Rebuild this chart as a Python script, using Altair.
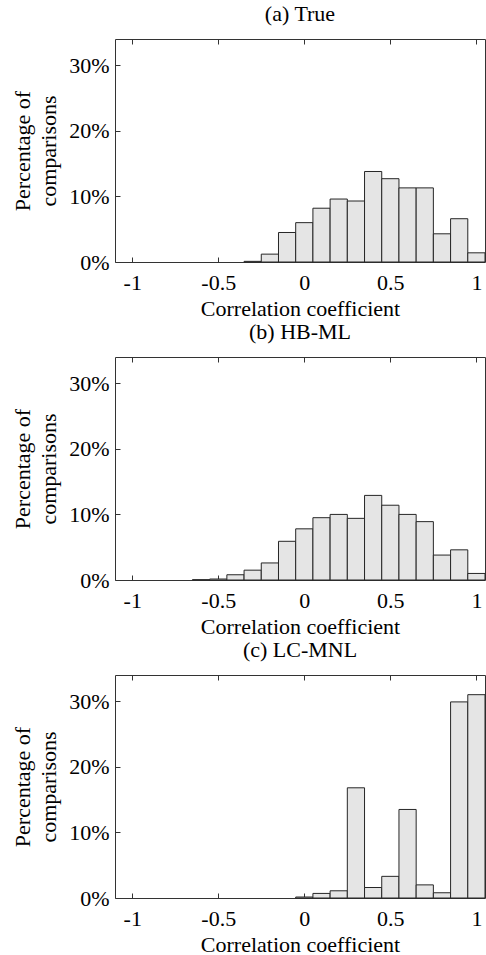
import altair as alt
import pandas as pd

# ---- data (percent of comparisons per 0.1-wide bin, by bin centre)
centers_true = [-0.3, -0.2, -0.1, 0.0, 0.1, 0.2, 0.3, 0.4, 0.5, 0.6, 0.7, 0.8, 0.9, 1.0]
pct_true = [0.1, 1.2, 4.5, 6.0, 8.2, 9.6, 9.3, 13.8, 12.7, 11.3, 11.3, 4.3, 6.6, 1.4]

centers_hbml = [-0.6, -0.5, -0.4, -0.3, -0.2, -0.1, 0.0, 0.1, 0.2, 0.3, 0.4, 0.5, 0.6, 0.7, 0.8, 0.9, 1.0]
pct_hbml = [0.05, 0.15, 0.8, 1.5, 2.6, 5.9, 7.8, 9.5, 10.0, 9.4, 12.9, 11.4, 10.0, 8.9, 3.8, 4.6, 1.0]

centers_lcmnl = [0.0, 0.1, 0.2, 0.3, 0.4, 0.5, 0.6, 0.7, 0.8, 0.9, 1.0]
pct_lcmnl = [0.15, 0.7, 1.1, 16.8, 1.6, 3.3, 13.5, 2.0, 0.8, 29.9, 31.0]

panel_titles = ["(a) True", "(b) HB-ML", "(c) LC-MNL"]
x_ticks = [-1, -0.5, 0, 0.5, 1]
y_ticks = [0, 0.1, 0.2, 0.3]
x_title = "Correlation coefficient"
y_title = ["Percentage of", "comparisons"]

W, H = 370, 223
FONT = "Liberation Serif, Times New Roman, Times, DejaVu Serif, serif"
FS = 22
TICK_COLOR = "#333333"


def panel(centers, pct, title):
    df = pd.DataFrame({"center": centers, "pct": pct})
    base = alt.Chart(df).transform_calculate(
        x0="datum.center - 0.05",
        x1="datum.center + 0.05",
        frac="datum.pct / 100",
    )
    xs = alt.Scale(domain=[-1.1, 1.05], nice=False, zero=False)
    ys = alt.Scale(domain=[0, 0.34], nice=False)

    bars = base.mark_bar(fill="#e5e5e5", stroke="#262626", strokeWidth=1).encode(
        x=alt.X("x0:Q", scale=xs,
                axis=alt.Axis(orient="bottom", values=x_ticks, labelExpr="'' + datum.value",
                              ticks=False, tickSize=0, labelPadding=10, titlePadding=5,
                              title=x_title, grid=False, domain=False)),
        x2="x1:Q",
        y=alt.Y("frac:Q", scale=ys,
                axis=alt.Axis(orient="left", values=y_ticks,
                              labelExpr="round(datum.value * 100) + '%'",
                              ticks=False, tickSize=0, labelPadding=6, titlePadding=8,
                              titleLineHeight=26,
                              title=y_title, grid=False, domain=False)),
        y2=alt.datum(0),
    )
    # inward ticks along the bottom and left edges
    inner_a = base.mark_bar(opacity=0).encode(
        x=alt.X("x0:Q", scale=xs,
                axis=alt.Axis(orient="top", offset=-H, values=x_ticks, labels=False,
                              tickSize=5, tickColor=TICK_COLOR, domain=False, grid=False,
                              title=None)),
        x2="x1:Q",
        y=alt.Y("frac:Q", scale=ys,
                axis=alt.Axis(orient="right", offset=-W, values=y_ticks, labels=False,
                              tickSize=5, tickColor=TICK_COLOR, domain=False, grid=False,
                              title=None)),
        y2=alt.datum(0),
    )
    # inward ticks along the top edge
    inner_b = base.mark_bar(opacity=0).encode(
        x=alt.X("x0:Q", scale=xs,
                axis=alt.Axis(orient="bottom", offset=-H, values=x_ticks, labels=False,
                              tickSize=5, tickColor=TICK_COLOR, domain=False, grid=False,
                              title=None)),
        x2="x1:Q",
        y=alt.Y("frac:Q", scale=ys, axis=None),
        y2=alt.datum(0),
    )
    return (
        alt.layer(bars, inner_a, inner_b)
        .resolve_axis(x="independent", y="independent")
        .properties(width=W, height=H,
                    title=alt.TitleParams(title, font=FONT, fontSize=FS, fontWeight="normal",
                                          color="black", offset=13))
    )


chart = (
    alt.vconcat(
        panel(centers_true, pct_true, panel_titles[0]),
        panel(centers_hbml, pct_hbml, panel_titles[1]),
        panel(centers_lcmnl, pct_lcmnl, panel_titles[2]),
        spacing=0,
    )
    .properties(padding={"left": 11, "top": 2, "right": 0, "bottom": 0})
    .configure_view(stroke="#333333", strokeWidth=1)
    .configure_axis(labelFont=FONT, titleFont=FONT, labelFontSize=FS, titleFontSize=FS,
                    labelColor="black", titleColor="black", titleFontWeight="normal")
    .configure_title(font=FONT, fontSize=FS, fontWeight="normal", color="black")
)

chart.save("out.html", embed_options={"renderer": "svg", "actions": False})
